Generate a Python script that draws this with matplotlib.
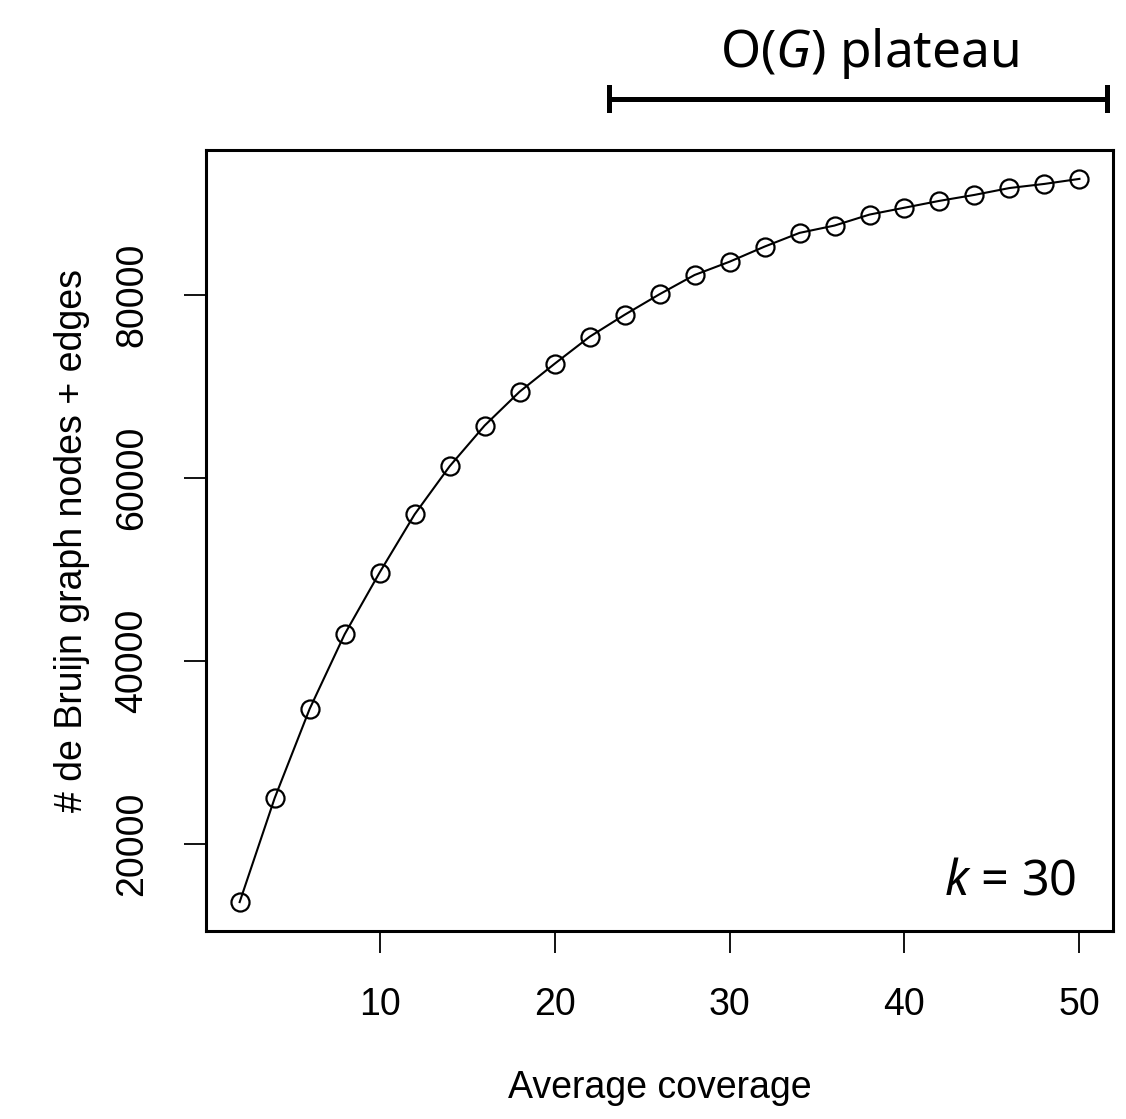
import numpy as np
import matplotlib
matplotlib.use("Agg")
import matplotlib.pyplot as plt

# data
coverage = [2, 4, 6, 8, 10, 12, 14, 16, 18, 20, 22, 24, 26,
            28, 30, 32, 34, 36, 38, 40, 42, 44, 46, 48, 50]
n_graph = [13650, 25000, 34750, 42900, 49650, 56000, 61250, 65700, 69400,
           72450, 75400, 77800, 80050, 82150, 83600, 85250, 86750, 87550,
           88750, 89500, 90250, 90900, 91650, 92100, 92650]
xticks = [10, 20, 30, 40, 50]
yticks = [20000, 40000, 60000, 80000]
plateau = [23.1, 51.55]

plt.rcParams['mathtext.fontset'] = 'custom'
plt.rcParams['mathtext.rm'] = 'Noto Sans'
plt.rcParams['mathtext.it'] = 'Noto Sans:italic'

lab_font = ['Liberation Sans Narrow', 'Liberation Sans']

fig = plt.figure(figsize=(11.26, 11.19), dpi=100)
ax = fig.add_axes([0.183, 0.168, 0.8055, 0.698])

ax.plot(coverage, n_graph, '-', color='black', lw=1.5)
ax.plot(coverage, n_graph, 'o', mfc='none', mec='black', ms=13, mew=1.6)
ax.margins(x=0.04, y=0.04)
# freeze limits (R style 4% padding) before drawing outside the box
ax.set_xlim(ax.get_xlim())
ax.set_ylim(ax.get_ylim())

ax.set_xticks(xticks)
ax.set_yticks(yticks)
ax.set_xticklabels([str(v) for v in xticks], family=lab_font, fontsize=27)
ax.set_yticklabels([str(v) for v in yticks], family=lab_font, fontsize=27,
                   rotation=90, va='center')
ax.tick_params(direction='out', length=16, width=1.3, pad=24)
for s in ax.spines.values():
    s.set_linewidth(2.2)

ax.set_xlabel('Average coverage', family=lab_font, fontsize=27, labelpad=34)
ax.set_ylabel('# de Bruijn graph nodes + edges', family=lab_font, fontsize=27,
              labelpad=18)

ax.text(0.96, 0.063, r'$k$ = 30', transform=ax.transAxes, ha='right',
        va='center', fontsize=35, family='Noto Sans')

# O(G) plateau bar above the plot
ybar = 101400
ax.plot(plateau, [ybar, ybar], color='black', lw=3.6, clip_on=False,
        solid_capstyle='butt')
for xc in plateau:
    ax.plot([xc, xc], [ybar - 1250, ybar + 1250], color='black', lw=3.6,
            clip_on=False)
ax.text(38, 106300, r'O($G$) plateau', ha='center', va='center',
        fontsize=37, family='Noto Sans', clip_on=False)

fig.savefig('out.png', dpi=100)
